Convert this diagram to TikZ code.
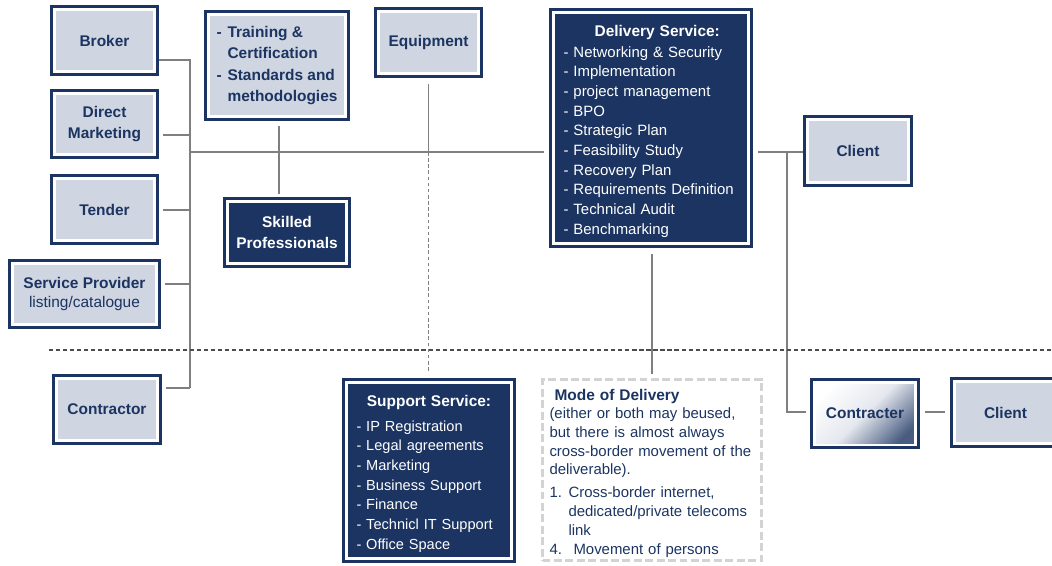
\documentclass[tikz,border=0pt]{standalone}
\usepackage{fontspec}
\setmainfont{Liberation Sans}
\definecolor{navy}{HTML}{1B3461}
\definecolor{boxfill}{HTML}{CFD5E1}
\definecolor{linkgray}{HTML}{7F7F7F}
\definecolor{dashgray}{HTML}{D3D3D3}
\newcommand{\insetrect}{([shift={(0.09cm,-0.09cm)}]path picture bounding box.north west) rectangle ([shift={(-0.09cm,0.09cm)}]path picture bounding box.south east)}
\tikzset{
  framed/.style={draw=navy, line width=1.7pt, fill=white, inner sep=0pt, align=center, font=\fontsize{8.8}{12}\selectfont\bfseries},
  lightbox/.style={framed, text=navy, path picture={\fill[boxfill] \insetrect;}},
  darkbox/.style={framed, text=white, path picture={\fill[navy] \insetrect;}},
  fadebox/.style={framed, text=navy, path picture={\shade[top color=white, bottom color=navy!80!white, middle color=boxfill!55!white, shading angle=45] \insetrect;}},
  modebox/.style={draw=dashgray, line width=1.7pt, dash pattern=on 4.5pt off 2pt, inner sep=0pt, align=left, text=navy, font=\fontsize{8.5}{10.6}\selectfont},
  link/.style={draw=linkgray, line width=0.6pt},
  dashlink/.style={draw=linkgray, line width=0.6pt, dash pattern=on 2pt off 1.5pt},
  sepline/.style={draw=black!70, line width=0.6pt, dash pattern=on 2.4pt off 1.6pt}
}
\begin{document}
\begin{tikzpicture}[x=0.02cm, y=-0.02cm]
\useasboundingbox (0,0) rectangle (1052,565);
% channels on the left
\node[lightbox, minimum width=2.12cm, minimum height=1.36cm] (broker) at (104.5,40.5) {Broker};
\node[lightbox, minimum width=2.12cm, minimum height=1.34cm] (direct) at (104.5,124) {Direct\\Marketing};
\node[lightbox, minimum width=2.12cm, minimum height=1.36cm] (tender) at (104.5,209.5) {Tender};
\node[lightbox, minimum width=3.0cm, minimum height=1.34cm] (provider) at (84.5,294) {Service Provider\\[-1.2pt]{\mdseries listing/catalogue}};
\node[lightbox, minimum width=2.14cm, minimum height=1.36cm] (contractor) at (107,409.5) {Contractor};
% resources
\node[lightbox, minimum width=2.86cm, minimum height=2.16cm, align=left, font=\fontsize{8.8}{12.2}\selectfont\bfseries] (training) at (277,65.5)
  {\makebox[0.22cm][l]{-}Training \&\\\hspace*{0.22cm}Certification\\\makebox[0.22cm][l]{-}Standards and\\\hspace*{0.22cm}methodologies};
\node[darkbox, minimum width=2.5cm, minimum height=1.36cm] (skilled) at (287,232.5) {Skilled\\Professionals};
\node[lightbox, minimum width=2.12cm, minimum height=1.36cm] (equipment) at (428.5,42.5) {Equipment};
% services
\node[darkbox, minimum width=4.02cm, minimum height=4.74cm, text width=3.5cm, align=left, font=\fontsize{8.5}{11.2}\selectfont] (delivery) at (651,128)
  {\makebox[3.5cm]{\rule{0pt}{10pt}\hspace{0.25cm}\fontsize{8.8}{11.2}\selectfont\bfseries Delivery Service:}\\[0.8pt]
   - Networking \& Security\\- Implementation\\- project management\\- BPO\\- Strategic Plan\\- Feasibility Study\\- Recovery Plan\\- Requirements Definition\\- Technical Audit\\- Benchmarking};
\node[darkbox, minimum width=3.42cm, minimum height=3.64cm, text width=2.9cm, align=left, font=\fontsize{8.3}{11.2}\selectfont] (support) at (429,470.5)
  {\makebox[2.9cm]{\rule{0pt}{10pt}\fontsize{8.8}{11.2}\selectfont\bfseries Support Service:}\\[3pt]
   - IP Registration\\- Legal agreements\\- Marketing\\- Business Support\\- Finance\\- Technicl IT Support\\- Office Space};
\node[modebox, minimum width=4.38cm, minimum height=3.62cm, text width=4.1cm] (mode) at (652,470)
  {\rule{0pt}{10pt}\hspace*{0.1cm}{\fontsize{8.8}{11}\selectfont\bfseries Mode of Delivery}\\
   (either or both may beused,\\but there is almost always\\cross-border movement of the\\deliverable).\\[2.5pt]
   \makebox[0.38cm][l]{1.}Cross-border internet,\\\hspace*{0.38cm}dedicated/private telecoms\\\hspace*{0.38cm}link\\[0.3pt]
   \makebox[0.48cm][l]{4.}Movement of persons};
% clients
\node[lightbox, minimum width=2.14cm, minimum height=1.38cm] (client) at (858,151) {Client};
\node[fadebox, minimum width=2.14cm, minimum height=1.36cm] (contracter) at (865,413.5) {Contracter};
\node[lightbox, minimum width=2.16cm, minimum height=1.36cm] (farclient) at (1005.5,412.5) {Client};
% connectors
\coordinate (trunk) at (190,152);
\coordinate (fork) at (787,152);
\draw[link] (broker.east |- 0,60) -- (trunk |- 0,60) -- (trunk |- 0,388);
\draw[link, shorten <=0.08cm] (direct.east |- 0,135) -- (trunk |- 0,135);
\draw[link, shorten <=0.08cm] (tender.east |- 0,210) -- (trunk |- 0,210);
\draw[link, shorten <=0.08cm] (provider.east |- 0,284) -- (trunk |- 0,284);
\draw[link, shorten <=0.08cm] (contractor.east |- 0,388) -- (trunk |- 0,388);
\draw[link, shorten >=0.11cm] (trunk) -- (delivery.west |- trunk);
\draw[link, shorten <=0.1cm, shorten >=0.06cm] (training.south -| 279,0) -- (skilled.north -| 279,0);
\draw[link, shorten <=0.13cm] (equipment.south) -- (equipment.south |- trunk);
\draw[dashlink, shorten >=0.15cm] (equipment.south |- trunk) -- (equipment.south |- support.north);
\draw[link, shorten <=0.13cm, shorten >=0.09cm] (delivery.south -| 652,0) -- (mode.north -| 652,0);
\draw[link, shorten <=0.11cm] (delivery.east |- fork) -- (client.west |- fork);
\draw[link, shorten >=0.09cm] (fork) |- (contracter.west |- 0,412);
\draw[link, shorten <=0.11cm, shorten >=0.11cm] (contracter.east |- 0,412) -- (farclient.west |- 0,412);
% separator
\draw[sepline] (49,350) -- (1052,350);
\end{tikzpicture}
\end{document}
